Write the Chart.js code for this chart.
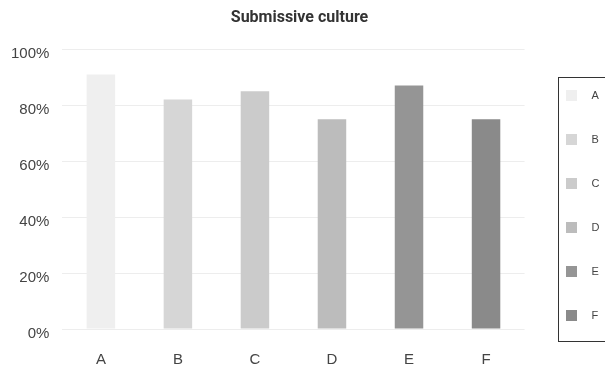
<!DOCTYPE html>
<html>
<head>
<meta charset="utf-8">
<script src="https://cdn.jsdelivr.net/npm/chart.js@4.4.1/dist/chart.umd.min.js"></script>
<style>
  html, body { margin: 0; padding: 0; background: #ffffff; }
  #wrap { width: 605px; height: 369px; position: relative; }
</style>
</head>
<body>
<div id="wrap"><canvas id="chart"></canvas></div>
<script>
// Share of respondents per group
const categories = ['A', 'B', 'C', 'D', 'E', 'F'];
const shares = [91, 82, 85, 75, 87, 75];
const barColors = ['#efefef', '#d6d6d6', '#cbcbcb', '#bcbcbc', '#959595', '#8a8a8a'];
const yTicks = [0, 20, 40, 60, 80, 100];

// Legend marker: a small square swatch followed by a gap before the label
function swatch(color) {
  const c = document.createElement('canvas');
  c.width = 20;
  c.height = 11;
  const g = c.getContext('2d');
  g.fillStyle = color;
  g.fillRect(0, 0, 11, 11);
  return c;
}

// Places the legend column and frames it with a thin rectangle
const legendFrame = {
  id: 'legendFrame',
  afterLayout(chart) {
    const lg = chart.legend;
    if (!lg) return;
    const h = lg.bottom - lg.top;
    const w = lg.right - lg.left;
    const pad = lg.options.labels.padding;
    lg.left = 566 - pad;
    lg.right = lg.left + w;
    lg.top = 57;
    lg.bottom = 57 + h;
  },
  afterDraw(chart) {
    const ctx = chart.ctx;
    ctx.save();
    ctx.strokeStyle = '#333333';
    ctx.lineWidth = 1;
    ctx.strokeRect(558.5, 77.5, 60, 264);
    ctx.restore();
  }
};

new Chart(document.getElementById('chart'), {
  type: 'bar',
  data: {
    labels: categories,
    datasets: [{
      data: shares,
      backgroundColor: barColors,
      borderWidth: 0,
      barPercentage: 0.74,
      categoryPercentage: 0.5
    }]
  },
  options: {
    responsive: true,
    maintainAspectRatio: false,
    animation: false,
    layout: { padding: { top: 4, left: -2, right: 4, bottom: -22 } },
    plugins: {
      title: {
        display: true,
        text: 'Submissive culture',
        color: '#333333',
        font: { family: 'Roboto', size: 16, weight: 'bold' },
        padding: { top: 4, bottom: 22 }
      },
      legend: {
        position: 'right',
        align: 'start',
        labels: {
          color: '#444444',
          font: { family: 'Liberation Sans', size: 11 },
          usePointStyle: true,
          pointStyleWidth: 20,
          boxHeight: 11,
          padding: 33,
          generateLabels(chart) {
            return categories.map((c, i) => ({
              text: c,
              fillStyle: barColors[i],
              strokeStyle: barColors[i],
              pointStyle: swatch(barColors[i]),
              lineWidth: 0,
              fontColor: '#444444',
              index: i,
              hidden: false
            }));
          }
        }
      },
      tooltip: { enabled: false }
    },
    scales: {
      x: {
        grid: { display: false, drawTicks: false },
        border: { display: false },
        ticks: {
          color: '#444444',
          font: { family: 'Liberation Sans', size: 15 },
          padding: 22
        }
      },
      y: {
        min: 0,
        max: 100,
        afterBuildTicks(axis) { axis.ticks = yTicks.map(v => ({ value: v })); },
        grid: { color: '#ededed', drawTicks: false },
        border: { display: false },
        ticks: {
          color: '#444444',
          font: { family: 'Liberation Sans', size: 15 },
          padding: 13,
          labelOffset: 5,
          callback: v => v + '%'
        }
      }
    }
  },
  plugins: [legendFrame]
});
</script>
</body>
</html>
